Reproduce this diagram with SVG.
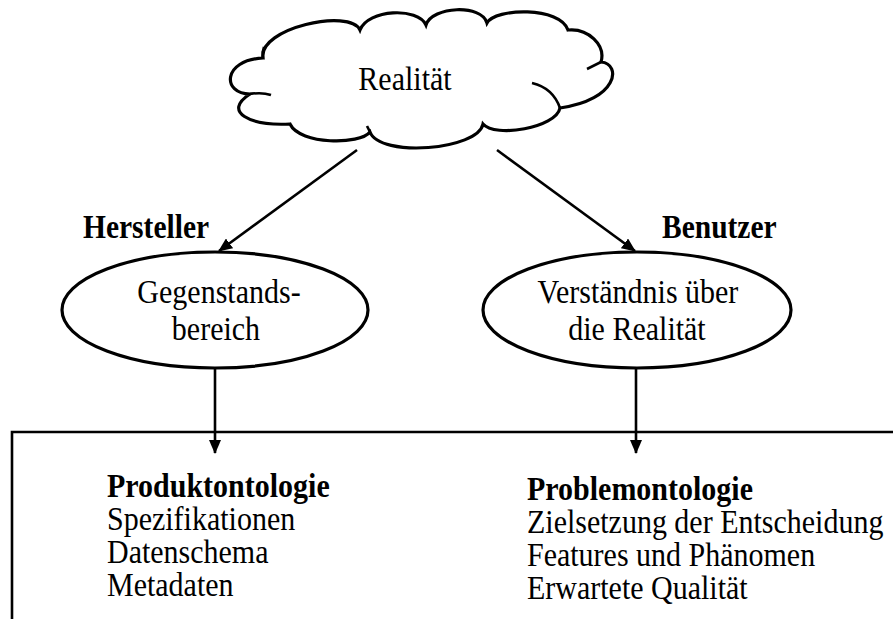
<svg xmlns="http://www.w3.org/2000/svg" width="893" height="619" viewBox="0 0 893 619">
  <style>
    .shape { fill: #fff; stroke: #000; stroke-width: 3.2; }
    .line { fill: none; stroke: #000; stroke-width: 2.6; }
    .txt { font-family: "Liberation Serif", "Times New Roman", serif; fill: #000; }
    .big { font-size: 30px; }
    .lbl { font-size: 29.5px; font-weight: bold; }
    .list { font-size: 30px; }
    .head { font-size: 30px; font-weight: bold; }
  </style>
  <defs>
    <marker id="arrow" viewBox="0 0 14 12" refX="13" refY="6" markerWidth="14" markerHeight="12" markerUnits="userSpaceOnUse" orient="auto">
      <path d="M0,0 L14,6 L0,12 Z" fill="#000"/>
    </marker>
  </defs>

  <rect width="893" height="619" fill="#fff"/>

  <!-- Cloud: Realität -->
  <g id="realitaet">
    <path class="shape" d="M263 58 C258 28,350 8,360 30 C368 9,418 7,426 25 C432 6,482 4,487 23 C495 8,560 6,568 30 C588 28,606 45,601 62 C622 64,618 100,560 108 C556 128,495 138,483 124 C478 150,380 158,370 132 C360 145,300 145,290 124 C250 126,222 112,250 94 C222 94,222 60,263 58 Z"/>
    <!-- inner lobe tails -->
    <path class="line" stroke-width="3" d="M250 94 Q262 92 271 95"/>
    <path class="line" stroke-width="3" d="M601 62 Q595 65 587 69"/>
    <path class="line" stroke-width="3" d="M532 83 Q553 88 560 108"/>
    <path class="line" stroke-width="3" d="M263 58 Q262 52 264 47"/>
    <path class="line" stroke-width="3" d="M370 132 Q368 128 367 126"/>
    <text class="txt big" x="405" y="90" text-anchor="middle" transform="matrix(1 0 0 1.12 0 -10.8)">Realität</text>
  </g>

  <!-- Ellipse: Gegenstandsbereich -->
  <g id="gegenstandsbereich">
    <ellipse class="shape" cx="215" cy="310" rx="153" ry="58"/>
    <text class="txt big" x="219" y="303" text-anchor="middle" transform="matrix(1 0 0 1.12 0 -36.36)">Gegenstands-</text>
    <text class="txt big" x="216" y="340" text-anchor="middle" transform="matrix(1 0 0 1.12 0 -40.8)">bereich</text>
  </g>

  <!-- Ellipse: Verständnis über die Realität -->
  <g id="verstaendnis">
    <ellipse class="shape" cx="637" cy="310" rx="154" ry="58"/>
    <text class="txt big" x="638" y="303" text-anchor="middle" transform="matrix(1 0 0 1.12 0 -36.36)">Verständnis über</text>
    <text class="txt big" x="637" y="340" text-anchor="middle" transform="matrix(1 0 0 1.12 0 -40.8)">die Realität</text>
  </g>

  <!-- Edge labels -->
  <g id="label-hersteller">
    <text class="txt lbl" x="83" y="238" transform="matrix(1 0 0 1.12 0 -28.56)">Hersteller</text>
  </g>
  <g id="label-benutzer">
    <text class="txt lbl" x="662" y="238" transform="matrix(1 0 0 1.12 0 -28.56)">Benutzer</text>
  </g>

  <!-- Bottom box with the two ontologies -->
  <g id="ontologien">
    <path class="line" stroke-width="3" d="M12 619 L12 432 L893 432"/>
  </g>
  <g id="produktontologie">
    <text class="txt head" x="107" y="497" transform="matrix(1 0 0 1.15 0 -74.55)">Produktontologie</text>
    <text class="txt list" x="107" y="530" transform="matrix(1 0 0 1.15 0 -79.5)">Spezifikationen</text>
    <text class="txt list" x="107" y="563" transform="matrix(1 0 0 1.15 0 -84.45)">Datenschema</text>
    <text class="txt list" x="107" y="596" transform="matrix(1 0 0 1.15 0 -89.4)">Metadaten</text>
  </g>
  <g id="problemontologie">
    <text class="txt head" x="527" y="500" transform="matrix(1 0 0 1.15 0 -75)">Problemontologie</text>
    <text class="txt list" x="527" y="533" transform="matrix(1 0 0 1.15 0 -79.95)">Zielsetzung der Entscheidung</text>
    <text class="txt list" x="527" y="566" transform="matrix(1 0 0 1.15 0 -84.9)">Features und Phänomen</text>
    <text class="txt list" x="527" y="599" transform="matrix(1 0 0 1.15 0 -89.85)">Erwartete Qualität</text>
  </g>

  <!-- Connectors -->
  <g id="connectors">
    <line class="line" x1="357" y1="150" x2="219" y2="251" marker-end="url(#arrow)"/>
    <line class="line" x1="497" y1="150" x2="635" y2="251" marker-end="url(#arrow)"/>
    <line class="line" x1="215" y1="368" x2="215" y2="453" marker-end="url(#arrow)"/>
    <line class="line" x1="636" y1="368" x2="636" y2="453" marker-end="url(#arrow)"/>
  </g>
</svg>
